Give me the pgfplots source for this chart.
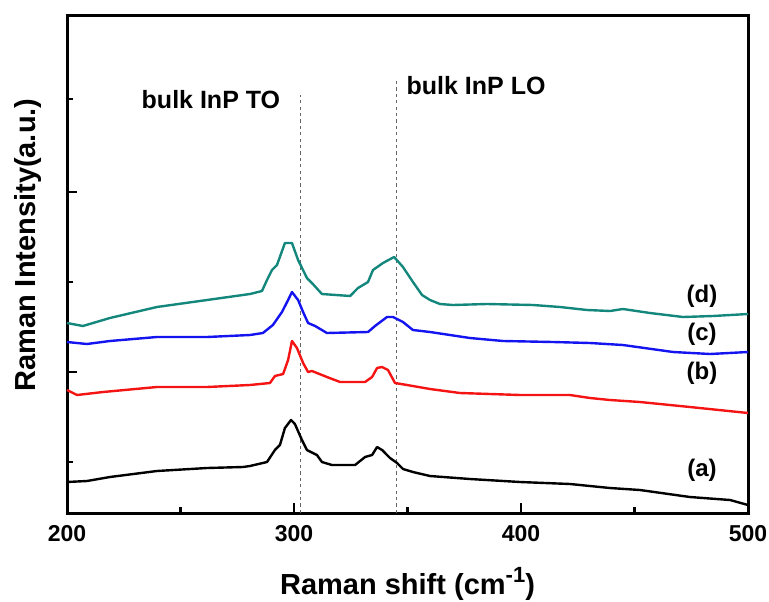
\documentclass[border=0pt]{standalone}
\usepackage{fontspec}
\setmainfont{Liberation Sans}
\usepackage{pgfplots}
\pgfplotsset{compat=1.18}
\definecolor{cteal}{RGB}{20,135,125}
\definecolor{cred}{RGB}{245,20,20}
\definecolor{cblue}{RGB}{20,20,240}
\begin{document}
\begin{tikzpicture}
\path[use as bounding box] (0,0) rectangle (384.5pt,300.5pt);
\begin{axis}[
  at={(33.5pt,44pt)}, anchor=south west,
  scale only axis, width=340.5pt, height=248.5pt,
  xmin=200, xmax=500, ymin=0, ymax=497,
  axis line style={line width=1.5pt},
  xtick={200,300,400,500}, minor xtick={250,350,450},
  ytick={141,321}, minor ytick={51,231,414}, yticklabels={},
  xtick pos=bottom, ytick pos=left, tick align=inside,
  major tick length=5pt, minor tick length=2.8pt,
  every tick/.style={line width=1.2pt, black},
  /pgf/number format/assume math mode=true,
  xticklabel style={font=\fontsize{11.5}{13}\selectfont\bfseries, yshift=-2.5pt},
  xlabel={Raman shift (cm\raisebox{0.75ex}{\fontsize{11}{12}\selectfont -1})},
  ylabel={Raman Intensity(a.u.)},
  label style={font=\fontsize{14.5}{16}\selectfont\bfseries},
  xlabel style={at={(axis description cs:0.5,-0.163)}, anchor=base},
  ylabel style={at={(axis description cs:-0.058,0.539)}, anchor=center, rotate=0},
  clip=false,
]
% reference lines
\addplot[gray!80!black, dash pattern=on 1.6pt off 1.6pt, line width=0.6pt] coordinates {(303,0) (303,418)};
\addplot[gray!80!black, dash pattern=on 1.6pt off 1.6pt, line width=0.6pt] coordinates {(345,0) (345,433)};
% (a)
\addplot[black, line width=1.2pt, line join=round] coordinates {
(200,31) (208.8,32) (218.9,36) (239.6,42) (261.7,45) (277.5,46) (280.6,47) (288.1,51)
(291.6,63) (293.8,68) (296.0,85) (298.7,93) (300.4,89) (303.5,73) (305.7,63) (310.1,58)
(312.3,51) (316.7,48) (326.9,48) (331.3,56) (334.4,58) (336.6,66) (338.8,63) (342.3,55)
(345.4,50) (348.0,44) (352.4,41) (359.9,37) (377.5,34) (399.6,31) (421.6,29) (439.2,25)
(452.4,23) (474.4,16) (492.1,13) (500,8)};
% (b)
\addplot[cred, line width=1.2pt, line join=round] coordinates {
(200,123) (204.4,118) (215.9,121) (239.6,126) (261.7,126) (280.6,128) (289.4,130) (291.6,137)
(295.2,139) (297.4,153) (299.1,172) (301.3,165) (304.0,150) (306.2,141) (307.9,142) (314.5,136)
(320.3,131) (331.3,131) (334.4,136) (336.6,145) (338.8,146) (341.4,143) (344.5,130) (349.8,128)
(359.9,124) (373.1,120) (399.6,118) (421.6,118) (430.4,115) (439.2,113) (452.4,111) (474.4,106)
(500,100)};
% (c)
\addplot[cblue, line width=1.2pt, line join=round] coordinates {
(200,171) (208.8,169) (218.9,172) (239.6,176) (261.7,176) (280.6,178) (286.3,180) (290.7,188)
(294.7,201) (297.4,213) (299.1,221) (301.8,213) (304.0,201) (306.2,190) (309.3,187) (314.5,180)
(332.6,181) (335.7,187) (341.0,196) (343.6,196) (348.0,191) (352.4,183) (359.9,181) (377.5,175)
(392.1,172) (414.1,171) (430.4,170) (444.9,168) (467.0,161) (483.3,159) (500,161)};
% (d)
\addplot[cteal, line width=1.2pt, line join=round] coordinates {
(200,190) (207.0,187) (218.9,195) (239.6,206) (261.7,213) (280.6,219) (285.9,222) (288.1,233)
(290.3,243) (292.5,248) (296.0,270) (299.1,270) (301.8,253) (305.7,235) (307.9,230) (312.3,219)
(324.7,217) (328.2,225) (332.6,231) (334.8,243) (339.2,250) (344.1,256) (348.0,246) (352.4,231)
(356.4,218) (359.9,213) (364.3,209) (370.0,208) (385.0,209) (405.3,208) (417.2,206) (429.1,203)
(439.2,202) (444.9,204) (456.8,200) (471.4,196) (484.6,197) (500,199)};
% annotations
\node[font=\fontsize{12.5}{14}\selectfont\bfseries, anchor=base] at (axis cs:263.4,405) {bulk InP TO};
\node[font=\fontsize{12.5}{14}\selectfont\bfseries, anchor=base] at (axis cs:380.2,418) {bulk InP LO};
\node[font=\fontsize{12}{14}\selectfont\bfseries] at (axis cs:479.7,216.5) {(d)};
\node[font=\fontsize{12}{14}\selectfont\bfseries] at (axis cs:479.7,179) {(c)};
\node[font=\fontsize{12}{14}\selectfont\bfseries] at (axis cs:479.7,140) {(b)};
\node[font=\fontsize{12}{14}\selectfont\bfseries] at (axis cs:479.7,43) {(a)};
\end{axis}
\end{tikzpicture}
\end{document}
